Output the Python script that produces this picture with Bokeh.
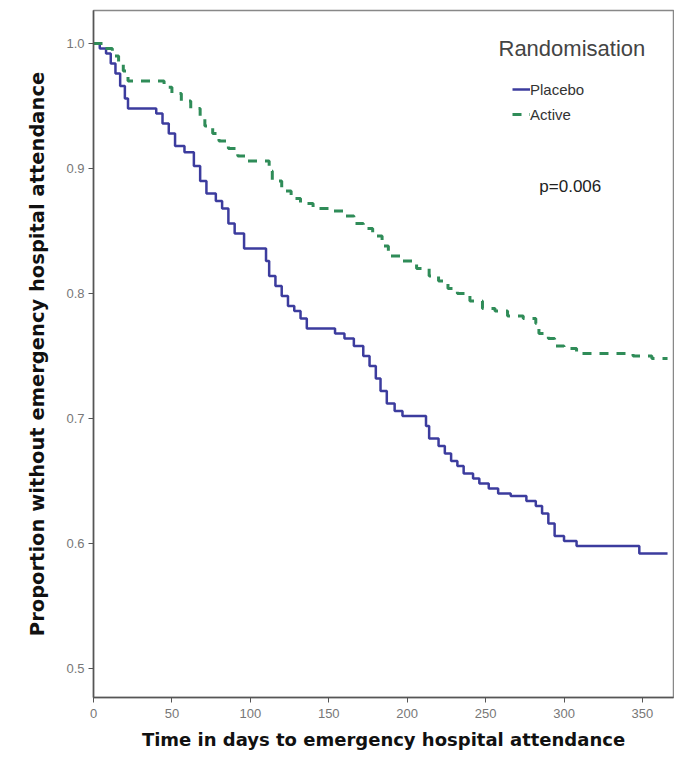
from bokeh.plotting import figure
from bokeh.models import Range1d, Legend, LegendItem, Label, FixedTicker, CustomJSTickFormatter
from bokeh.embed import file_html
from bokeh.resources import INLINE

# Kaplan-Meier step data
placebo_days = [0, 4, 8, 11, 14, 17, 20, 22, 40, 44, 48, 52, 58, 64, 68, 72, 78, 82, 86, 90, 96,
                110, 112, 116, 120, 124, 128, 132, 136, 154, 160, 166, 172, 176, 180, 183, 187, 192,
                197, 212, 214, 220, 224, 228, 232, 236, 242, 246, 252, 258, 266, 276, 282, 286, 290,
                294, 300, 308, 348, 366]
placebo_surv = [1.0, 0.996, 0.992, 0.984, 0.976, 0.966, 0.956, 0.948, 0.944, 0.936, 0.928, 0.918,
                0.913, 0.902, 0.890, 0.880, 0.874, 0.868, 0.856, 0.848, 0.836, 0.826, 0.814, 0.806,
                0.798, 0.790, 0.786, 0.780, 0.772, 0.768, 0.764, 0.758, 0.750, 0.742, 0.732, 0.722,
                0.712, 0.706, 0.702, 0.694, 0.684, 0.678, 0.672, 0.666, 0.662, 0.656, 0.652, 0.648,
                0.644, 0.640, 0.638, 0.634, 0.630, 0.624, 0.616, 0.606, 0.602, 0.598, 0.592, 0.592]

active_days = [0, 6, 12, 16, 19, 22, 45, 50, 56, 62, 68, 71, 76, 80, 86, 92, 98, 112, 114, 120,
               126, 132, 140, 150, 160, 166, 172, 178, 184, 188, 196, 206, 214, 220, 226, 232, 240,
               248, 256, 264, 274, 282, 284, 290, 294, 300, 308, 344, 356, 366]
active_surv = [1.0, 0.996, 0.990, 0.984, 0.978, 0.970, 0.965, 0.960, 0.954, 0.948, 0.942, 0.934,
               0.928, 0.922, 0.916, 0.910, 0.906, 0.898, 0.890, 0.882, 0.876, 0.872, 0.868, 0.866,
               0.862, 0.856, 0.852, 0.846, 0.838, 0.830, 0.826, 0.820, 0.814, 0.810, 0.804, 0.800,
               0.794, 0.788, 0.786, 0.782, 0.780, 0.776, 0.768, 0.764, 0.758, 0.756, 0.752, 0.750,
               0.748, 0.748]

x_ticks = [0, 50, 100, 150, 200, 250, 300, 350]
y_ticks = [0.5, 0.6, 0.7, 0.8, 0.9, 1.0]

FONT = "Liberation Sans"
BLUE = "#3c3c9e"
GREEN = "#2f8c58"

p = figure(width=674, height=759, output_backend="svg", toolbar_location=None,
           x_range=Range1d(0, 369.8), y_range=Range1d(0.4768, 1.0264),
           min_border_left=93, min_border_right=1, min_border_top=10, min_border_bottom=62)
p.background_fill_color = "white"
p.border_fill_color = "white"
p.outline_line_color = "#888888"
p.outline_line_width = 1.5
p.grid.visible = False

r_pl = p.step(placebo_days, placebo_surv, mode="after", line_color=BLUE, line_width=2.5)
r_ac = p.step(active_days, active_surv, mode="after", line_color=GREEN, line_width=3,
              line_dash="9 8")

for ax in (p.xaxis[0], p.yaxis[0]):
    ax.axis_line_color = "#555555"
    ax.axis_line_width = 1.5
    ax.major_tick_line_color = "#555555"
    ax.major_tick_in = 0
    ax.major_tick_out = 5
    ax.minor_tick_line_color = None
    ax.major_label_text_font = FONT
    ax.major_label_text_font_size = "13px"
    ax.major_label_text_color = "#777777"
    ax.axis_label_text_font = "DejaVu Sans"
    ax.axis_label_text_font_style = "bold"
    ax.axis_label_text_color = "#111111"

p.xaxis.ticker = FixedTicker(ticks=x_ticks)
p.yaxis.ticker = FixedTicker(ticks=y_ticks)
p.yaxis.formatter = CustomJSTickFormatter(code="return tick.toFixed(1);")
p.xaxis.axis_label = "Time in days to emergency hospital attendance"
p.yaxis.axis_label = "Proportion without emergency hospital attendance"
p.xaxis.axis_label_text_font_size = "18px"
p.yaxis.axis_label_text_font_size = "19.5px"
p.xaxis.major_label_standoff = 6
p.xaxis.axis_label_standoff = 8
p.yaxis.major_label_standoff = 4
p.yaxis.axis_label_standoff = 14

legend = Legend(items=[LegendItem(label="Placebo", renderers=[r_pl]),
                       LegendItem(label="Active", renderers=[r_ac])],
                location=(419, 573), orientation="vertical")
legend.background_fill_alpha = 0
legend.border_line_color = None
legend.label_text_font = FONT
legend.label_text_font_size = "15px"
legend.label_text_color = "#333333"
legend.glyph_width = 18
legend.glyph_height = 20
legend.label_height = 20
legend.label_standoff = 0
legend.spacing = 5
legend.padding = 0
legend.margin = 0
p.add_layout(legend, "center")

p.add_layout(Label(x=305, y=0.996, text="Randomisation", text_align="center",
                   text_baseline="middle", text_font=FONT, text_font_size="22px",
                   text_color="#444444"))
p.add_layout(Label(x=304, y=0.886, text="p=0.006", text_align="center",
                   text_baseline="middle", text_font=FONT, text_font_size="17px",
                   text_color="#222222"))

open("out.html", "w").write(file_html(p, INLINE))
